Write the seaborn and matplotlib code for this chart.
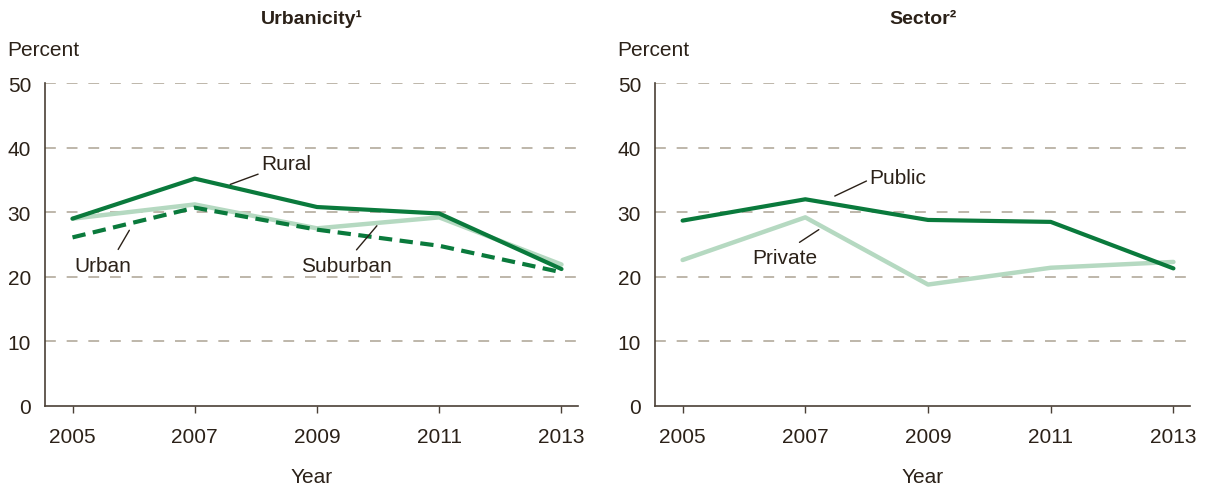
import matplotlib
matplotlib.use("Agg")
import matplotlib.pyplot as plt
import seaborn as sns
import pandas as pd

years = [2005, 2007, 2009, 2011, 2013]
rural = [29.0, 35.2, 30.8, 29.8, 21.2]
suburban = [29.0, 31.2, 27.5, 29.2, 21.9]
urban = [26.1, 30.7, 27.3, 24.8, 20.7]
public = [28.7, 32.0, 28.8, 28.5, 21.3]
private = [22.6, 29.2, 18.8, 21.4, 22.3]
yticks = [0, 10, 20, 30, 40, 50]

dark = "#0a7a3c"
light = "#b5d9c1"
txt = "#2b2118"
grid_c = "#b9b1a4"

sns.set_theme(style="white")
plt.rcParams['font.family'] = ['Liberation Sans', 'DejaVu Sans']
plt.rcParams['text.color'] = txt
plt.rcParams['axes.labelcolor'] = txt
plt.rcParams['xtick.color'] = txt
plt.rcParams['ytick.color'] = txt

fig = plt.figure(figsize=(12.07, 4.89), dpi=100)
ax1 = fig.add_axes([45 / 1207, 82 / 489, 533 / 1207, 323 / 489])
ax2 = fig.add_axes([655 / 1207, 82 / 489, 535 / 1207, 323 / 489])


def style_axes(ax, title):
    ax.set_ylim(0, 50)
    ax.set_xlim(2004.55, 2013.27)
    ax.set_xticks(years)
    ax.set_yticks(yticks)
    ax.set_xticklabels([str(y) for y in years])
    for y in yticks[1:]:
        ax.axhline(y, color=grid_c, lw=1.3, linestyle=(0, (6, 6)), zorder=0)
    for s in ["top", "right"]:
        ax.spines[s].set_visible(False)
    for s in ["left", "bottom"]:
        ax.spines[s].set_color("#4a4036")
        ax.spines[s].set_linewidth(1.2)
    ax.tick_params(axis="x", length=5, width=1, color="#4a4036", labelsize=15, pad=10, direction="out", bottom=True)
    ax.tick_params(axis="y", length=0, labelsize=15, pad=10)
    ax.set_xlabel("Year", fontsize=15, labelpad=15)
    ax.set_ylabel("")
    ax.set_title(title, fontsize=14, fontweight="bold", pad=43)
    ax.text(-0.07, 1.105, "Percent", transform=ax.transAxes, fontsize=15, ha="left", va="center")


# Urbanicity
sns.lineplot(x=years, y=suburban, ax=ax1, color=light, lw=3.2)
sns.lineplot(x=years, y=urban, ax=ax1, color=dark, lw=3.0, linestyle=(0, (3.2, 1.8)))
sns.lineplot(x=years, y=rural, ax=ax1, color=dark, lw=3.0)
style_axes(ax1, "Urbanicity\u00b9")

ax1.annotate("Rural", xy=(2007.58, 34.3), xytext=(2008.09, 37.5), fontsize=15, va="center",
             arrowprops=dict(arrowstyle="-", color=txt, lw=1, shrinkA=0, shrinkB=0))
ax1.annotate("Urban", xy=(2005.93, 27.2), xytext=(2005.03, 21.7), fontsize=15, va="center",
             arrowprops=dict(arrowstyle="-", color=txt, lw=1, shrinkA=3, shrinkB=0,
                             relpos=(0.7, 1.0)))
ax1.annotate("Suburban", xy=(2009.98, 27.9), xytext=(2008.74, 21.7), fontsize=15, va="center",
             arrowprops=dict(arrowstyle="-", color=txt, lw=1, shrinkA=3, shrinkB=0,
                             relpos=(0.55, 1.0)))

# Sector
sns.lineplot(x=years, y=private, ax=ax2, color=light, lw=3.2)
sns.lineplot(x=years, y=public, ax=ax2, color=dark, lw=3.0)
style_axes(ax2, "Sector\u00b2")

ax2.annotate("Public", xy=(2007.48, 32.5), xytext=(2008.05, 35.3), fontsize=15, va="center",
             arrowprops=dict(arrowstyle="-", color=txt, lw=1, shrinkA=0, shrinkB=0,
                             relpos=(-0.05, 0.35)))
ax2.annotate("Private", xy=(2007.22, 27.3), xytext=(2006.13, 23.0), fontsize=15, va="center",
             arrowprops=dict(arrowstyle="-", color=txt, lw=1, shrinkA=3, shrinkB=0,
                             relpos=(0.6, 1.0)))

fig.savefig("out.png", dpi=100)
